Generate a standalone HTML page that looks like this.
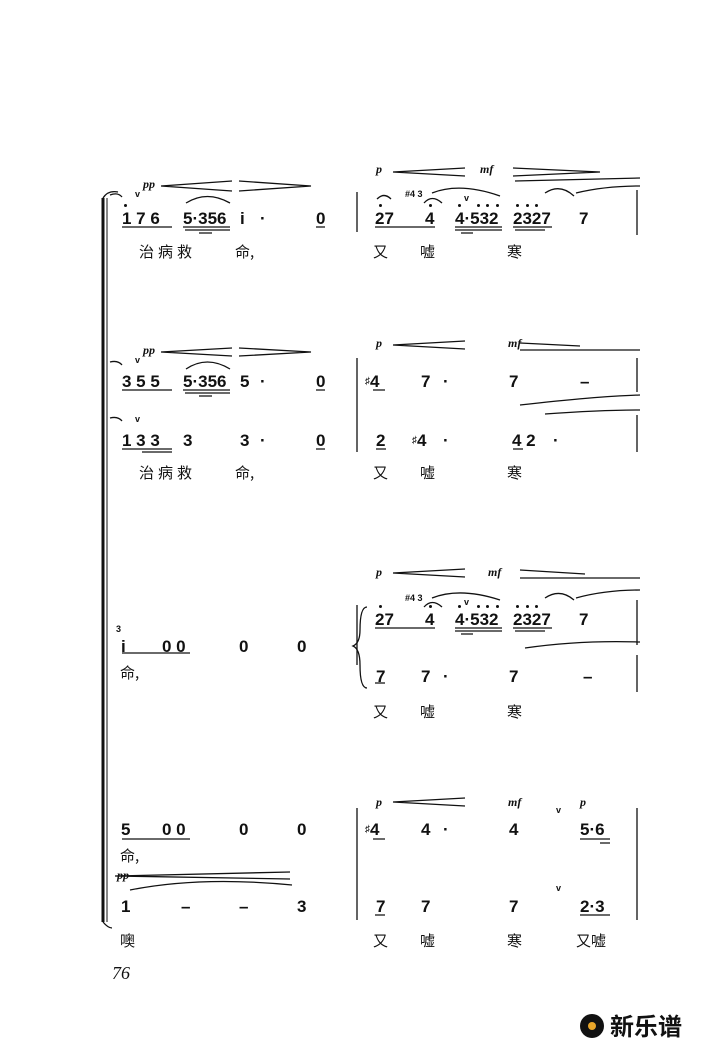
<!DOCTYPE html>
<html><head><meta charset="utf-8"><style>
body{margin:0;width:710px;height:1048px;background:#fff;position:relative;overflow:hidden;font-family:"Liberation Sans","Noto Sans CJK SC",sans-serif;color:#111}
.n{position:absolute;font-weight:bold;font-size:17px;line-height:17px;white-space:pre}
.c{position:absolute;font-size:15px;line-height:15px;font-family:"Noto Sans CJK SC",sans-serif;white-space:pre}
.d{position:absolute;font-style:italic;font-family:"Liberation Serif",serif;font-size:12px;font-weight:bold}
.s{position:absolute;font-weight:bold;font-size:9px;line-height:9px}
.o{position:absolute;width:3px;height:3px;border-radius:50%;background:#111}
svg{position:absolute;left:0;top:0}
</style></head><body>
<svg width="710" height="1048">
<g stroke="#111" fill="none" stroke-width="1.3">
<line x1="103" y1="198" x2="103" y2="922" stroke-width="3"/>
<line x1="107" y1="198" x2="107" y2="922" stroke-width="1"/>
<path d="M103 198 Q108 190 118 192"/><path d="M103 922 Q108 928 112 928"/>
<line x1="357" y1="192" x2="357" y2="232"/><line x1="637" y1="190" x2="637" y2="235"/>
<line x1="357" y1="358" x2="357" y2="452"/><line x1="637" y1="358" x2="637" y2="392"/><line x1="637" y1="415" x2="637" y2="452"/>
<line x1="357" y1="605" x2="357" y2="665"/><line x1="637" y1="600" x2="637" y2="645"/><line x1="637" y1="655" x2="637" y2="692"/>
<path d="M367 607 Q360 607 360 630 Q360 643 353 646 Q360 649 360 665 Q360 688 367 688"/>
<line x1="357" y1="808" x2="357" y2="920"/><line x1="637" y1="808" x2="637" y2="920"/>
<path d="M161 186 L232 181 M161 186 L232 191 M239 181 L311 186 L239 191"/>
<path d="M393 172 L465 168 M393 172 L465 176 M513 168 L600 172 L513 176 M515 181 L640 178"/>
<path d="M161 352 L232 348 M161 352 L232 356 M239 348 L311 352 L239 356"/>
<path d="M393 345 L465 341 M393 345 L465 349 M520 343 L580 346 M520 350 L640 350"/>
<path d="M393 573 L465 569 M393 573 L465 577 M520 570 L585 574 M520 578 L640 578"/>
<path d="M393 802 L465 798 M393 802 L465 806"/>
<path d="M115 876 L290 872 M115 876 L290 879"/>
<path d="M186 203 Q207 190 230 203"/><path d="M186 369 Q207 355 230 369"/>
<path d="M432 193 Q460 182 500 196"/><path d="M424 203 Q432 194 442 203"/><path d="M545 193 Q560 183 574 196"/><path d="M576 193 Q605 186 640 186"/>
<path d="M377 199 Q384 192 391 199"/>
<path d="M640 395 Q600 396 520 405 M545 414 Q600 410 640 410"/>
<path d="M432 598 Q460 587 500 600"/><path d="M424 607 Q432 598 442 607"/><path d="M545 598 Q560 588 574 600"/><path d="M576 598 Q605 590 640 590"/>
<path d="M525 648 Q580 640 640 642"/>
<path d="M130 890 Q200 876 292 885"/>
<path d="M110 195 Q118 192 122 197"/><path d="M110 362 Q118 360 122 365"/><path d="M110 418 Q118 416 122 421"/>
<path d="M122 227 H172 M183 227 H230 M185 230 H230 M199 233 H212 M316 227 H325"/>
<path d="M375 227 H435 M455 227 H502 M455 230 H502 M461 233 H473 M513 227 H552 M515 230 H545"/>
<path d="M122 390 H172 M183 390 H230 M185 393 H230 M199 396 H212 M316 390 H325 M373 390 H385"/>
<path d="M122 449 H172 M142 452 H172 M316 449 H325 M376 449 H386 M513 449 H523"/>
<path d="M122 653 H190 M375 628 H435 M455 628 H502 M455 631 H502 M461 634 H473 M513 628 H552 M515 631 H545 M375 683 H385"/>
<path d="M122 839 H190 M373 839 H385 M580 839 H610 M600 843 H610 M375 915 H385 M580 915 H610"/>
</g>
</svg>
<div class="d" style="left:143px;top:177px">pp</div><div class="s" style="left:135px;top:190px">v</div>
<div class="d" style="left:376px;top:162px">p</div><div class="d" style="left:480px;top:162px">mf</div>
<div class="d" style="left:143px;top:343px">pp</div><div class="s" style="left:135px;top:356px">v</div>
<div class="s" style="left:135px;top:415px">v</div>
<div class="d" style="left:376px;top:336px">p</div><div class="d" style="left:508px;top:336px">mf</div>
<div class="d" style="left:376px;top:565px">p</div><div class="d" style="left:488px;top:565px">mf</div>
<div class="d" style="left:376px;top:795px">p</div><div class="d" style="left:508px;top:795px">mf</div><div class="d" style="left:580px;top:795px">p</div>
<div class="d" style="left:117px;top:868px">pp</div>
<div class="s" style="left:405px;top:190px">#4 3</div><div class="s" style="left:405px;top:594px">#4 3</div>
<div class="s" style="left:116px;top:625px">3</div>
<div class="s" style="left:464px;top:194px">v</div><div class="s" style="left:464px;top:598px">v</div>

<!-- octave dots -->
<div class="o" style="left:124px;top:204px"></div>
<div class="o" style="left:379px;top:204px"></div><div class="o" style="left:429px;top:204px"></div>
<div class="o" style="left:458px;top:204px"></div><div class="o" style="left:477px;top:204px"></div><div class="o" style="left:486px;top:204px"></div><div class="o" style="left:496px;top:204px"></div>
<div class="o" style="left:516px;top:204px"></div><div class="o" style="left:526px;top:204px"></div><div class="o" style="left:535px;top:204px"></div>
<div class="o" style="left:379px;top:605px"></div><div class="o" style="left:429px;top:605px"></div>
<div class="o" style="left:458px;top:605px"></div><div class="o" style="left:477px;top:605px"></div><div class="o" style="left:486px;top:605px"></div><div class="o" style="left:496px;top:605px"></div>
<div class="o" style="left:516px;top:605px"></div><div class="o" style="left:526px;top:605px"></div><div class="o" style="left:535px;top:605px"></div>

<div class="n" style="left:122px;top:210px">1 7 6</div><div class="n" style="left:183px;top:210px">5·356</div>
<div class="n" style="left:240px;top:210px">i</div><div class="n" style="left:260px;top:210px">·</div><div class="n" style="left:316px;top:210px">0</div>
<div class="n" style="left:375px;top:210px">27</div><div class="n" style="left:425px;top:210px">4</div>
<div class="n" style="left:455px;top:210px">4·532</div><div class="n" style="left:513px;top:210px">2327</div><div class="n" style="left:579px;top:210px">7</div>
<div class="c" style="left:139px;top:244px;letter-spacing:4px">治病救</div><div class="c" style="left:235px;top:244px">命,</div>
<div class="c" style="left:373px;top:244px">又</div><div class="c" style="left:420px;top:244px">嘘</div><div class="c" style="left:507px;top:244px">寒</div>

<div class="n" style="left:122px;top:373px">3 5 5</div><div class="n" style="left:183px;top:373px">5·356</div>
<div class="n" style="left:240px;top:373px">5</div><div class="n" style="left:260px;top:373px">·</div><div class="n" style="left:316px;top:373px">0</div>
<div class="n" style="left:365px;top:373px"><span style="font-size:10px;vertical-align:top">♯</span>4</div><div class="n" style="left:421px;top:373px">7</div><div class="n" style="left:443px;top:373px">·</div>
<div class="n" style="left:509px;top:373px">7</div><div class="n" style="left:580px;top:373px">–</div>
<div class="n" style="left:122px;top:432px">1 3 3</div><div class="n" style="left:183px;top:432px">3</div>
<div class="n" style="left:240px;top:432px">3</div><div class="n" style="left:260px;top:432px">·</div><div class="n" style="left:316px;top:432px">0</div>
<div class="n" style="left:376px;top:432px">2</div><div class="n" style="left:412px;top:432px"><span style="font-size:10px;vertical-align:top">♯</span>4</div><div class="n" style="left:443px;top:432px">·</div>
<div class="n" style="left:512px;top:432px">4 2</div><div class="n" style="left:553px;top:432px">·</div>
<div class="c" style="left:139px;top:465px;letter-spacing:4px">治病救</div><div class="c" style="left:235px;top:465px">命,</div>
<div class="c" style="left:373px;top:465px">又</div><div class="c" style="left:420px;top:465px">嘘</div><div class="c" style="left:507px;top:465px">寒</div>

<div class="n" style="left:121px;top:638px">i</div><div class="n" style="left:162px;top:638px">0 0</div>
<div class="n" style="left:239px;top:638px">0</div><div class="n" style="left:297px;top:638px">0</div>
<div class="c" style="left:120px;top:665px">命,</div>
<div class="n" style="left:375px;top:611px">27</div><div class="n" style="left:425px;top:611px">4</div>
<div class="n" style="left:455px;top:611px">4·532</div><div class="n" style="left:513px;top:611px">2327</div><div class="n" style="left:579px;top:611px">7</div>
<div class="n" style="left:376px;top:668px">7</div><div class="n" style="left:421px;top:668px">7</div><div class="n" style="left:443px;top:668px">·</div>
<div class="n" style="left:509px;top:668px">7</div><div class="n" style="left:583px;top:668px">–</div>
<div class="c" style="left:373px;top:704px">又</div><div class="c" style="left:420px;top:704px">嘘</div><div class="c" style="left:507px;top:704px">寒</div>

<div class="n" style="left:121px;top:821px">5</div><div class="n" style="left:162px;top:821px">0 0</div>
<div class="n" style="left:239px;top:821px">0</div><div class="n" style="left:297px;top:821px">0</div>
<div class="c" style="left:120px;top:848px">命,</div>
<div class="n" style="left:365px;top:821px"><span style="font-size:10px;vertical-align:top">♯</span>4</div><div class="n" style="left:421px;top:821px">4</div><div class="n" style="left:443px;top:821px">·</div>
<div class="n" style="left:509px;top:821px">4</div><div class="n" style="left:580px;top:821px">5·6</div>
<div class="s" style="left:556px;top:806px">v</div><div class="s" style="left:556px;top:884px">v</div>
<div class="n" style="left:121px;top:898px">1</div><div class="n" style="left:181px;top:898px">–</div>
<div class="n" style="left:239px;top:898px">–</div><div class="n" style="left:297px;top:898px">3</div>
<div class="n" style="left:376px;top:898px">7</div><div class="n" style="left:421px;top:898px">7</div>
<div class="n" style="left:509px;top:898px">7</div><div class="n" style="left:580px;top:898px">2·3</div>
<div class="c" style="left:120px;top:933px">噢</div>
<div class="c" style="left:373px;top:933px">又</div><div class="c" style="left:420px;top:933px">嘘</div><div class="c" style="left:507px;top:933px">寒</div><div class="c" style="left:576px;top:933px">又嘘</div>

<div style="position:absolute;left:112px;top:963px;font-family:'Liberation Serif',serif;font-style:italic;font-size:18px">76</div>
<div style="position:absolute;left:580px;top:1014px;width:24px;height:24px;border-radius:50%;background:#111"></div>
<div style="position:absolute;left:588px;top:1022px;width:8px;height:8px;border-radius:50%;background:#e9a62a"></div>
<div style="position:absolute;left:610px;top:1010px;font-size:24px;font-weight:bold;font-family:'Noto Sans CJK SC',sans-serif;line-height:30px">新乐谱</div>
</body></html>
